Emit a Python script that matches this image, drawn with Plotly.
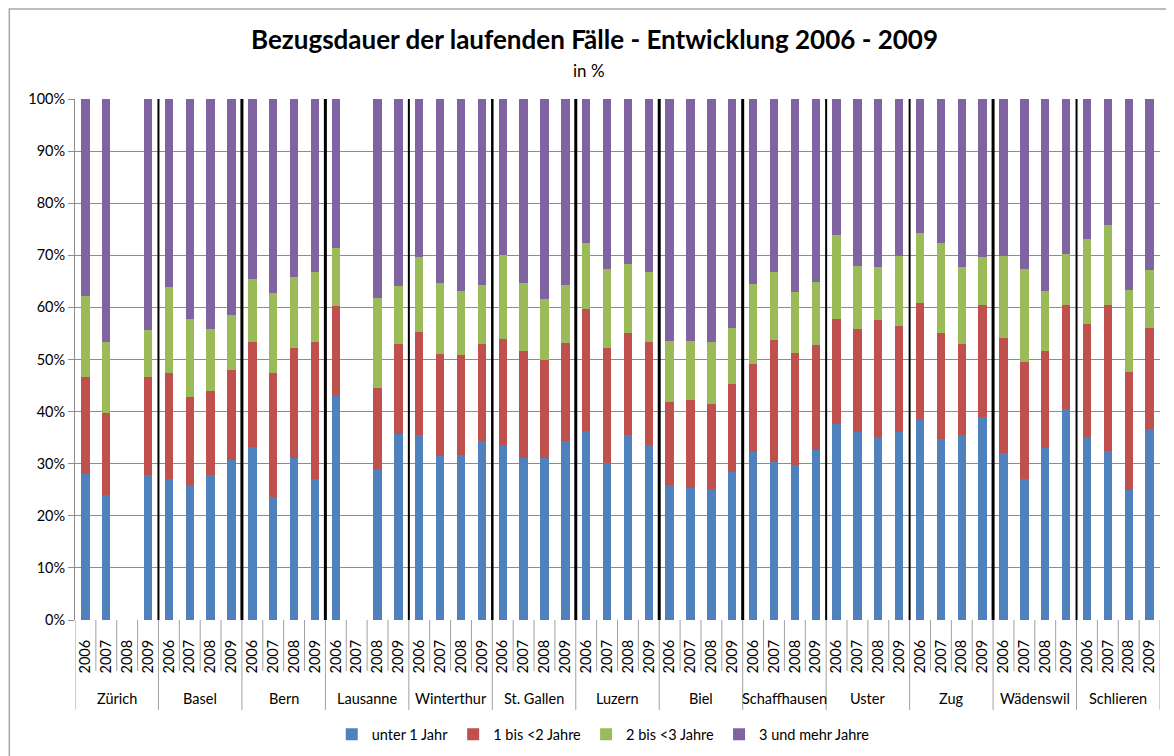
import plotly.graph_objects as go

cities = ["Zürich", "Basel", "Bern", "Lausanne", "Winterthur", "St. Gallen", "Luzern",
          "Biel", "Schaffhausen", "Uster", "Zug", "Wädenswil", "Schlieren"]
years = ["2006", "2007", "2008", "2009"]

series_names = ["unter 1 Jahr", "1 bis <2 Jahre", "2 bis <3 Jahre", "3 und mehr Jahre"]
colors = ["#4F81BD", "#C0504D", "#9BBB59", "#8064A2"]

# values in percent, per city: 2006, 2007, 2008, 2009 (None = no data)
unter_1 = [
    28.1, 23.9, None, 27.9,   # Zürich
    27.1, 25.8, 27.9, 30.8,   # Basel
    33.2, 23.7, 31.1, 27.1,   # Bern
    42.9, None, 28.7, 35.7,   # Lausanne
    35.6, 31.4, 31.7, 34.3,   # Winterthur
    33.5, 31.0, 31.0, 34.4,   # St. Gallen
    36.2, 30.1, 35.6, 33.5,   # Luzern
    25.9, 25.3, 25.2, 28.5,   # Biel
    32.3, 30.3, 29.7, 32.7,   # Schaffhausen
    37.7, 36.1, 35.2, 36.1,   # Uster
    38.5, 34.8, 35.6, 39.0,   # Zug
    32.1, 27.1, 33.1, 40.5,   # Wädenswil
    35.2, 32.5, 25.0, 36.7,   # Schlieren
]
bis_2 = [
    18.5, 15.9, None, 18.7,
    20.3, 17.0, 16.1, 17.1,
    20.1, 23.7, 21.1, 26.2,
    17.4, None, 15.8, 17.3,
    19.7, 19.6, 19.1, 18.7,
    20.5, 20.7, 19.0, 18.8,
    23.4, 22.2, 19.4, 19.9,
    16.0, 16.9, 16.3, 16.8,
    16.9, 23.4, 21.6, 20.0,
    20.0, 19.7, 22.3, 20.3,
    22.3, 20.2, 17.3, 21.5,
    22.0, 22.5, 18.5, 20.0,
    21.6, 28.0, 22.6, 19.4,
]
bis_3 = [
    15.6, 13.5, None, 9.0,
    16.6, 14.9, 11.8, 10.6,
    12.1, 15.3, 13.7, 13.4,
    11.1, None, 17.3, 11.2,
    14.3, 13.6, 12.3, 11.3,
    16.0, 12.9, 11.7, 11.1,
    12.7, 15.0, 13.3, 13.3,
    11.6, 11.3, 11.8, 10.7,
    15.3, 13.1, 11.6, 12.1,
    16.2, 12.1, 10.2, 13.5,
    13.5, 17.4, 14.8, 9.2,
    15.8, 17.8, 11.6, 9.8,
    16.4, 15.4, 15.7, 11.1,
]
mehr_3 = [
    37.8, 46.7, None, 44.4,
    36.0, 42.3, 44.2, 41.5,
    34.6, 37.3, 34.1, 33.3,
    28.6, None, 38.2, 35.8,
    30.4, 35.4, 36.9, 35.7,
    30.0, 35.4, 38.3, 35.7,
    27.7, 32.7, 31.7, 33.3,
    46.5, 46.5, 46.7, 44.0,
    35.5, 33.2, 37.1, 35.2,
    26.1, 32.1, 32.3, 30.1,
    25.7, 27.6, 32.3, 30.3,
    30.1, 32.6, 36.8, 29.7,
    26.8, 24.1, 36.7, 32.8,
]
y_ticks = [0, 10, 20, 30, 40, 50, 60, 70, 80, 90, 100]

categories = [f"{c} {y}" for c in cities for y in years]
year_labels = [y for c in cities for y in years]

FONT = "Lato, 'Open Sans', sans-serif"
GRID = "#8c8c8c"
TICKC = "#a0a0a0"
FS = 14.5

W, H = 1166, 748
L, R, T, B = 66.5, 14, 91, 135.5
PW, PH = W - L - R, H - T - B

fig = go.Figure()
for name, vals, col in zip(series_names, [unter_1, bis_2, bis_3, mehr_3], colors):
    fig.add_trace(go.Bar(
        x=categories, y=vals, name=name, marker=dict(color=col, line=dict(width=0)),
        width=0.4,
    ))

shapes = []
n = len(categories)
ng = len(years)
# outer frame (top/left visible)
shapes.append(dict(type="rect", xref="paper", yref="paper",
                   x0=(0.8 - L) / PW, x1=1.2, y0=-0.4, y1=(H - B - 0.8) / PH,
                   line=dict(color="#a6a6a6", width=1.5), fillcolor="rgba(0,0,0,0)", layer="below"))
# category dividers below axis
for i in range(n + 1):
    xb = i - 0.5
    is_group = (i % ng == 0)
    shapes.append(dict(type="line", xref="x", yref="paper",
                       x0=xb, x1=xb, y0=0, y1=-(90 if is_group else 51) / PH,
                       line=dict(color=TICKC, width=1)))
# black separators between cities inside the plot
widths = [2, 3, 3, 2, 2.5, 3, 3, 3, 2, 2, 3, 2]
for k in range(1, len(cities)):
    xb = k * ng - 0.5
    shapes.append(dict(type="line", xref="x", yref="y", x0=xb, x1=xb, y0=0, y1=100.6,
                       line=dict(color="black", width=widths[k - 1])))

annotations = []
for k, c in enumerate(cities):
    annotations.append(dict(x=k * ng + (ng - 1) / 2, y=0, xref="x", yref="y", text=c,
                            showarrow=False, yshift=-78.5, yanchor="middle",
                            font=dict(family=FONT, size=FS, color="#000")))
annotations.append(dict(x=(589 - 8 - L) / PW, y=(H - B - 62) / PH, xref="paper", yref="paper",
                        text="in %", showarrow=False, yanchor="middle",
                        font=dict(family=FONT, size=17, color="#000")))

fig.update_layout(
    width=W, height=H,
    margin=dict(l=L, r=R, t=T, b=B, autoexpand=False),
    paper_bgcolor="white", plot_bgcolor="white",
    barmode="stack", bargap=0.6,
    font=dict(family=FONT, size=FS, color="#000"),
    title=dict(text="<b>Bezugsdauer der laufenden Fälle - Entwicklung 2006 - 2009</b>",
               x=586.5 / W, xanchor="center", xref="container",
               y=1 - 32 / H, yanchor="middle", yref="container",
               font=dict(family=FONT, size=26, color="#000")),
    xaxis=dict(type="category", categoryorder="array", categoryarray=categories,
               tickmode="array", tickvals=categories, ticktext=year_labels,
               tickangle=-90, ticks="", showline=False, showgrid=False, zeroline=False,
               ticklabelstandoff=16, range=[-0.5, n - 0.5],
               tickfont=dict(family=FONT, size=FS, color="#000")),
    yaxis=dict(range=[0, 100], tickmode="array", tickvals=y_ticks,
               ticktext=[f"{v}%" for v in y_ticks],
               showgrid=True, gridcolor=GRID, gridwidth=1, zeroline=False,
               showline=True, linecolor=GRID, linewidth=1,
               ticks="outside", ticklen=6, tickcolor=GRID,
               tickfont=dict(family=FONT, size=FS, color="#000")),
    legend=dict(orientation="h", x=(603 - 8 - L) / PW, xanchor="center",
                y=-(735 - 8 - (H - B)) / PH, yanchor="middle", traceorder="normal",
                font=dict(family=FONT, size=FS, color="#000"),
                itemwidth=30, tracegroupgap=0, bgcolor="rgba(0,0,0,0)"),
    shapes=shapes, annotations=annotations,
    showlegend=True,
)

fig.write_html("out.html")
